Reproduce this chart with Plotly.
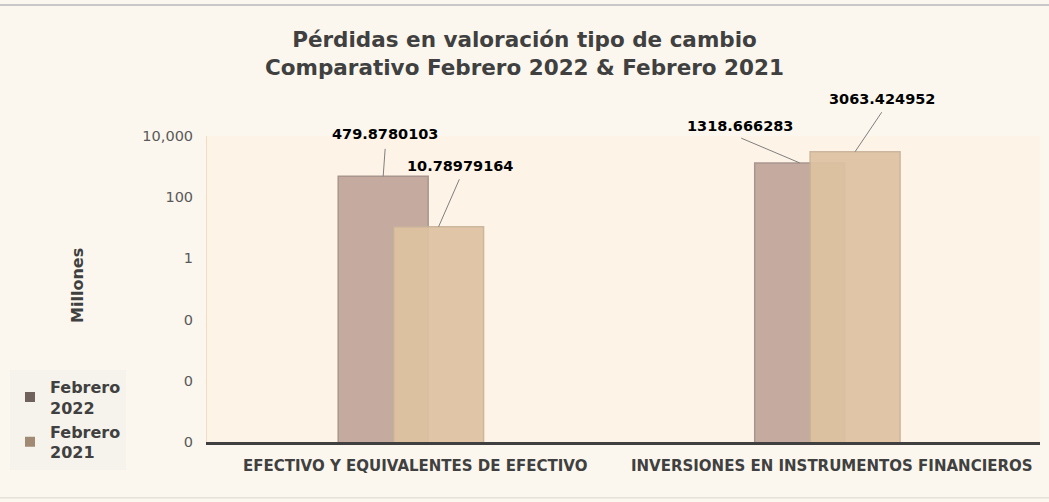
import math
import plotly.graph_objects as go

categories = ["EFECTIVO Y EQUIVALENTES DE EFECTIVO", "INVERSIONES EN INSTRUMENTOS FINANCIEROS"]
feb_2022 = [479.8780103, 1318.666283]
feb_2021 = [10.78979164, 3063.424952]
labels_2022 = ["479.8780103", "1318.666283"]
labels_2021 = ["10.78979164", "3063.424952"]
y_ticks = [1e-6, 1e-4, 1e-2, 1, 100, 10000]
y_ticktext = ["0", "0", "0", "1", "100", "10,000"]

FONT = "DejaVu Sans"
col_2022 = "#C4AA9F"
col_2021 = "#DEC3A2"
w = 0.216
off_2022 = -0.185
off_2021 = -0.052

fig = go.Figure()
fig.add_trace(go.Bar(x=[0, 1], y=feb_2022, width=w, offset=off_2022, marker_color=col_2022,
                     marker_line=dict(color="#A8968E", width=1.5), showlegend=False, name="Febrero 2022"))
fig.add_trace(go.Bar(x=[0, 1], y=feb_2021, width=w, offset=off_2021, marker_color=col_2021,
                     marker_line=dict(color="#C9B29A", width=1.5), opacity=0.93, showlegend=False,
                     name="Febrero 2021"))
# legend-only swatches
fig.add_trace(go.Scatter(x=[None], y=[None], mode="markers", name="Febrero<br>2022",
                         marker=dict(symbol="square", size=10, color="#6F625C")))
fig.add_trace(go.Scatter(x=[None], y=[None], mode="markers", name="Febrero<br>2021",
                         marker=dict(symbol="square", size=10, color="#A08A74")))

# data labels with leader lines (pixel offsets from bar tops)
label_specs = [
    (0, feb_2022[0], off_2022, labels_2022[0], (2, 28), (2, 42)),
    (0, feb_2021[0], off_2021, labels_2021[0], (21, 48), (21, 61)),
    (1, feb_2022[1], off_2022, labels_2022[1], (-59, 25), (-60, 37)),
    (1, feb_2021[1], off_2021, labels_2021[1], (27, 40), (27, 53)),
]
for cat, val, off, txt, (lx, ly), (tx, ty) in label_specs:
    xc = cat + off + w / 2
    # leader line: arrow from bar top to an empty text box
    fig.add_annotation(x=xc, y=math.log10(val), text="", showarrow=True, arrowhead=0,
                       arrowwidth=1, arrowcolor="#7F7F7F", ax=lx, ay=-ly, standoff=0,
                       startstandoff=0, borderpad=0)
    fig.add_annotation(x=xc, y=math.log10(val), text=txt, showarrow=False, xshift=tx, yshift=ty,
                       font=dict(family=FONT, size=14.5, color="#000000", weight="bold"))

fig.add_annotation(text="Millones", xref="paper", yref="paper", x=-0.17, y=0.513, textangle=-90,
                   showarrow=False, font=dict(family=FONT, size=16, color="#404040", weight="bold"))

# frame lines
fig.add_shape(type="line", xref="paper", yref="paper", x0=-0.25, x1=1.02, y0=1.428, y1=1.428,
              line=dict(color="#C8C8C8", width=2))
fig.add_shape(type="line", xref="paper", yref="paper", x0=-0.25, x1=1.02, y0=-0.182, y1=-0.182,
              line=dict(color="#E6E2DA", width=1.5))

fig.update_layout(
    width=1049, height=502,
    barmode="overlay",
    paper_bgcolor="#FBF7EE",
    plot_bgcolor="#FEF3E7",
    margin=dict(l=207, r=9, t=136, b=60),
    title=dict(text="Pérdidas en valoración tipo de cambio<br>Comparativo Febrero 2022 & Febrero 2021",
               x=0.5, xref="container", y=0.906, yanchor="middle",
               font=dict(family=FONT, size=21.5, color="#404040", weight="bold")),
    legend=dict(x=-0.2365, y=0.236, xanchor="left", yanchor="top", bgcolor="#F6F3EC",
                font=dict(family=FONT, size=16, color="#404040", weight="bold"),
                itemwidth=30, tracegroupgap=0),
    xaxis=dict(type="category", tickmode="array", tickvals=[0, 1], ticktext=categories,
               range=[-0.5, 1.5], showgrid=False, showline=True, linecolor="#404040", linewidth=3,
               tickfont=dict(family=FONT, size=15, color="#404040", weight="bold"), ticks="",
               ticklabelstandoff=8),
    yaxis=dict(type="log", range=[-6, 4], tickvals=y_ticks, ticktext=y_ticktext, showgrid=False,
               zeroline=False, ticks="", showline=True, linecolor="#F3DCC3", linewidth=1,
               ticklabelstandoff=10, tickfont=dict(family=FONT, size=14.5, color="#595959")),
)

fig.write_html("out.html", config={"displayModeBar": False},
               post_script="document.body.style.margin='0';"
                           "document.body.style.background='#FBF7EE';")
